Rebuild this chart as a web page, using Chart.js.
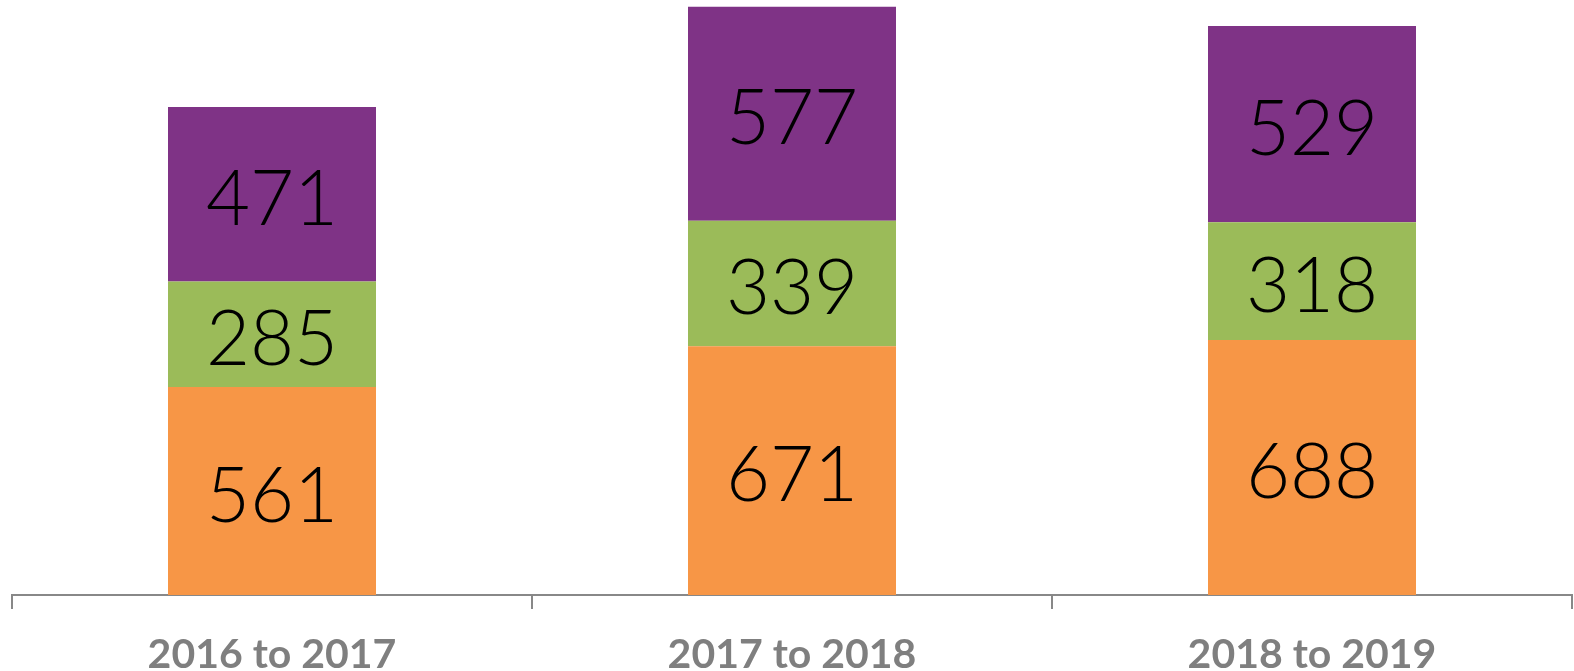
<!DOCTYPE html>
<html>
<head>
<meta charset="utf-8">
<script src="https://cdn.jsdelivr.net/npm/chart.js@4"></script>
<style>
  html, body { margin: 0; padding: 0; background: #fff; }
  #wrap { width: 1574px; height: 671px; position: relative; }
</style>
</head>
<body>
<div id="wrap"><canvas id="chart"></canvas></div>
<script>
const categories = ['2016 to 2017', '2017 to 2018', '2018 to 2019'];
const orangeVals = [561, 671, 688];
const greenVals = [285, 339, 318];
const purpleVals = [471, 577, 529];
const colors = ['#F79646', '#9BBB59', '#7F3386'];

// draws each value in the middle of its segment
const segmentLabels = {
  id: 'segmentLabels',
  afterDatasetsDraw(chart) {
    const ctx = chart.ctx;
    ctx.save();
    ctx.fillStyle = '#000';
    ctx.font = '300 76px Lato, "Open Sans", sans-serif';
    ctx.textAlign = 'center';
    ctx.textBaseline = 'middle';
    chart.data.datasets.forEach((ds, di) => {
      chart.getDatasetMeta(di).data.forEach((bar, i) => {
        const { x, y, base } = bar.getProps(['x', 'y', 'base'], true);
        ctx.fillText(String(ds.data[i]), x, (y + base) / 2 + 6);
      });
    });
    ctx.restore();
  }
};

new Chart(document.getElementById('chart'), {
  type: 'bar',
  data: {
    labels: categories,
    datasets: [
      { label: 'a', data: orangeVals, backgroundColor: colors[0] },
      { label: 'b', data: greenVals, backgroundColor: colors[1] },
      { label: 'c', data: purpleVals, backgroundColor: colors[2] },
    ].map(d => ({ ...d, barPercentage: 0.4, categoryPercentage: 1, borderWidth: 0 }))
  },
  options: {
    responsive: true, maintainAspectRatio: false, animation: false,
    layout: { padding: { left: 12, right: 2, top: 2, bottom: 0 } },
    plugins: { legend: { display: false }, tooltip: { enabled: false } },
    scales: {
      x: {
        stacked: true,
        border: { color: '#888', width: 2 },
        grid: { display: true, drawOnChartArea: false, tickLength: 14, color: '#888', lineWidth: 2, offset: true },
        ticks: { color: '#7F7F7F', font: { family: 'Lato, "Open Sans", sans-serif', size: 41, weight: 'bold' }, padding: 21, maxRotation: 0 },
        afterFit: s => { s.height = 76; }
      },
      y: { stacked: true, display: false, min: 0, max: 1600 }
    }
  },
  plugins: [segmentLabels]
});
</script>
</body>
</html>
